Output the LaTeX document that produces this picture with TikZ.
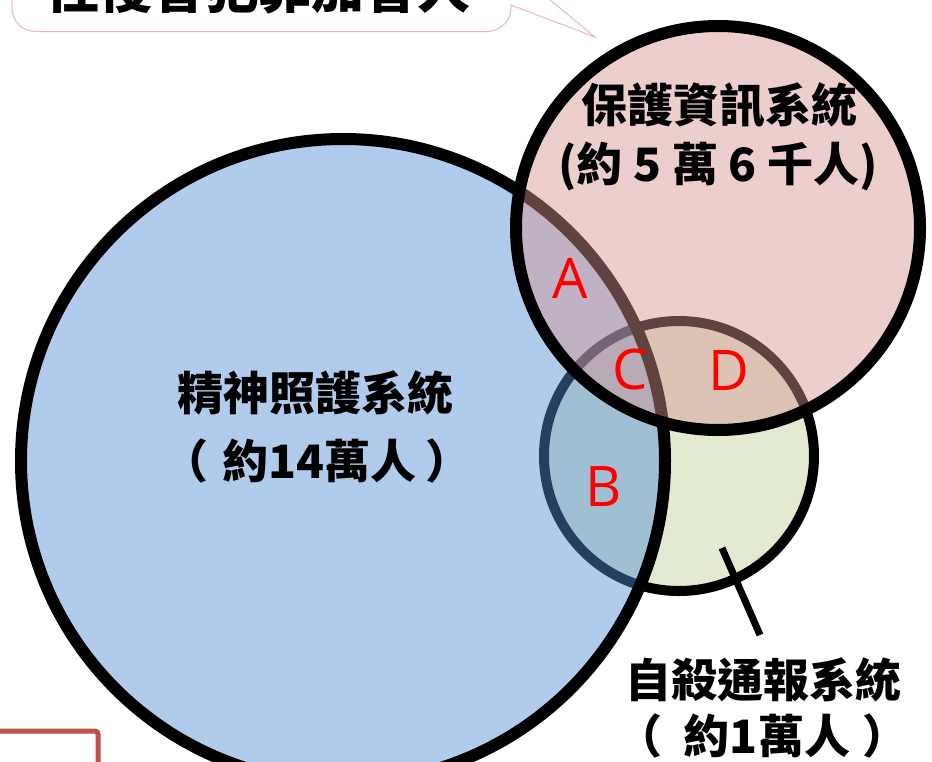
\documentclass[tikz,border=0pt]{standalone}
\usepackage{fontspec}
\newfontfamily\cjk{Noto Sans CJK TC}
\newfontfamily\latinsans{Open Sans}
\definecolor{bluefill}{RGB}{80,140,213}
\definecolor{pinkfill}{RGB}{215,148,146}
\definecolor{greenfill}{RGB}{226,234,209}
\definecolor{calloutpink}{RGB}{230,185,184}
\definecolor{rectred}{RGB}{192,80,77}
\begin{document}
\begin{tikzpicture}[x=1pt,y=-1pt,
  ring/.style={circle, draw=black, inner sep=0pt},
  cjklabel/.style={inner sep=0pt, font=\cjk\bfseries\fontsize{46}{46}\selectfont, text=black},
  letter/.style={inner sep=0pt, font=\latinsans\fontsize{56}{56}\selectfont, text=red}]
\useasboundingbox (0,0) rectangle (932,761);
\fill[white] (0,0) rectangle (932,761);
% callout
\draw[draw=calloutpink, line width=1, fill=white] (12,-40) -- (12,8) .. controls (12,21) and (22,31.5) .. (36,31.5) -- (487,31.5) .. controls (500,31.5) and (511,21) .. (511,8) -- (511,5) -- (595,37) -- (550,0) -- (525,-40);
\node[cjklabel, font=\cjk\bfseries\fontsize{53}{53}\selectfont] (calloutText) at (258,-12) {性侵害犯罪加害人};
% red frame corner
\draw[draw=rectred, line width=5, rounded corners=3] (-10,731) -- (98,731) -- (98,775);
% circles
\node[ring, fill=greenfill, line width=10, minimum size=270] (suicide) at (679,456) {};
\node[ring, fill=bluefill, fill opacity=0.45, line width=12, minimum size=644] (psych) at (343,461) {};
\node[ring, fill=pinkfill, fill opacity=0.45, line width=12, minimum size=404] (protect) at (718,228) {};
% labels
\node[cjklabel] (protect1) at (719,105) {保護資訊系統};
\node[cjklabel] (protect2) at (718,166) {(約 5 萬 6 千人)};
\node[cjklabel] (psych1) at (315,393) {精神照護系統};
\node[cjklabel] (psych2) at (317,461) {（\hspace{14pt}約14萬人\hspace{9pt}）};
\node[cjklabel] (suicide1) at (763,680) {自殺通報系統};
\node[cjklabel] (suicide2) at (762,736) {（\hspace{22pt}約1萬人\hspace{12pt}）};
% region letters
\node[letter] (regA) at (570,278) {A};
\node[letter] (regB) at (604,487) {B};
\node[letter] (regC) at (630,369) {C};
\node[letter] (regD) at (729,371) {D};
% pointer
\coordinate (ptrA) at (722,548);
\coordinate (ptrB) at (760,635);
\draw[line width=7] (ptrA) -- (ptrB);
\end{tikzpicture}
\end{document}
